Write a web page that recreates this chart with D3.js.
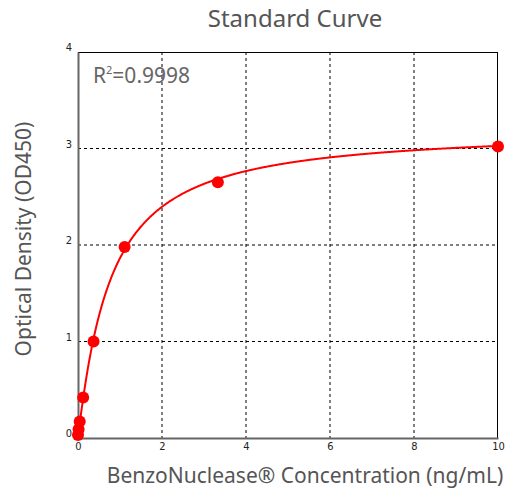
<!DOCTYPE html>
<html>
<head>
<meta charset="utf-8">
<script src="https://cdn.jsdelivr.net/npm/d3@7"></script>
<style>
  body { margin: 0; background: #fff; }
  svg { display: block; }
</style>
</head>
<body>
<svg></svg>
<script>
// standard points
var conc = [0, 0.0137, 0.041, 0.123, 0.37, 1.11, 3.33, 10];
var od = [0.03, 0.09, 0.17, 0.42, 1.0, 1.98, 2.65, 3.02];
var xTicks = [0, 2, 4, 6, 8, 10];
var yTicks = [0, 1, 2, 3, 4];
// 4PL fit parameters (a = bottom, b = slope, c = EC50, d = top)
var fitA = 0.03, fitB = 1.1, fitC = 0.75, fitD = 3.2;
var r2Label = "0.9998";

var width = 506, height = 490;
var padLeft = 78, padRight = 498, padTop = 52, padBottom = 438;

var svg = d3.select("svg").attr("width", width).attr("height", height);

var x = d3.scaleLinear().domain([0, 10]).range([padLeft, padRight]);
var y = d3.scaleLinear().domain([0, 4]).range([padBottom, padTop]);

// gridlines
svg.append("g").selectAll("line")
    .data(xTicks.slice(1, -1))
    .enter().append("line")
    .attr("x1", d => x(d)).attr("x2", d => x(d))
    .attr("y1", padTop).attr("y2", padBottom)
    .attr("stroke", "#000").attr("stroke-width", 1)
    .attr("stroke-dasharray", "3,3");
svg.append("g").selectAll("line")
    .data(yTicks.slice(1, -1))
    .enter().append("line")
    .attr("x1", padLeft).attr("x2", padRight)
    .attr("y1", d => y(d)).attr("y2", d => y(d))
    .attr("stroke", "#000").attr("stroke-width", 1)
    .attr("stroke-dasharray", "3,3");

// frame: top/right thin black
svg.append("line").attr("x1", padLeft).attr("x2", padRight).attr("y1", padTop + 0.5).attr("y2", padTop + 0.5)
    .attr("stroke", "#000");
svg.append("line").attr("x1", padRight - 0.5).attr("x2", padRight - 0.5).attr("y1", padTop).attr("y2", padBottom)
    .attr("stroke", "#000");

// axes
var xAxis = d3.axisBottom(x).tickValues(xTicks).tickFormat(d3.format("d")).tickSize(0).tickPadding(4);
var yAxis = d3.axisLeft(y).tickValues(yTicks).tickFormat(d3.format("d")).tickSize(0).tickPadding(6);

var gx = svg.append("g").attr("transform", `translate(0,${padBottom})`).call(xAxis);
var gy = svg.append("g").attr("transform", `translate(${padLeft},0)`).call(yAxis);
[gx, gy].forEach(function(g) {
    g.select(".domain").attr("stroke", "#666").attr("stroke-width", 2);
    g.selectAll("text")
        .style("font-family", "'DejaVu Sans Condensed', 'DejaVu Sans', sans-serif")
        .style("font-size", "11px")
        .attr("fill", "#222");
});
gy.selectAll("text").attr("dy", "-0.1em");

// fitted curve
var fitX = d3.range(0, 10.001, 0.02);
var line = d3.line()
    .x(d => x(d))
    .y(d => y(fitD + (fitA - fitD) / (1 + Math.pow(d / fitC, fitB))))
    .curve(d3.curveMonotoneX);
svg.append("path")
    .datum(fitX)
    .attr("d", line)
    .attr("fill", "none")
    .attr("stroke", "#ff0000")
    .attr("stroke-width", 2);

// points
svg.append("g").selectAll("circle")
    .data(conc)
    .enter().append("circle")
    .attr("cx", d => x(d))
    .attr("cy", (d, i) => y(od[i]))
    .attr("r", 6)
    .attr("fill", "#ff0000");

var font = "'Noto Sans', 'Open Sans', sans-serif";

// title
svg.append("text")
    .attr("x", 295).attr("y", 27)
    .attr("text-anchor", "middle")
    .style("font-family", font).style("font-size", "24px")
    .attr("fill", "#555")
    .text("Standard Curve");

// R squared
var r2 = svg.append("text")
    .attr("x", 93).attr("y", 83)
    .style("font-family", font).style("font-size", "21px")
    .attr("fill", "#666");
r2.append("tspan").text("R");
r2.append("tspan").attr("dy", -9).style("font-size", "11px").text("2");
r2.append("tspan").attr("dy", 9).text("=" + r2Label);

// axis titles
svg.append("text")
    .attr("x", 305).attr("y", 483)
    .attr("text-anchor", "middle")
    .style("font-family", font).style("font-size", "21px")
    .attr("fill", "#555")
    .text("BenzoNuclease® Concentration (ng/mL)");

svg.append("text")
    .attr("transform", "translate(31,239) rotate(-90)")
    .attr("text-anchor", "middle")
    .style("font-family", font).style("font-size", "21px")
    .attr("fill", "#555")
    .text("Optical Density (OD450)");
</script>
</body>
</html>
